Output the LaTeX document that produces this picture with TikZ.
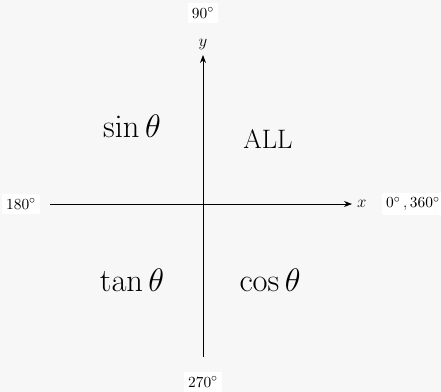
\documentclass[tikz,border=0pt]{standalone}
\usepackage{amsmath}
\usetikzlibrary{arrows.meta}

\begin{document}
\begin{tikzpicture}[x=0.025cm,y=-0.025cm,>=Stealth,axis/.style={->, semithick},deg/.style={fill=white, font=\fontsize{11}{13}\selectfont, inner sep=3pt},label/.style={font=\large},quad/.style={font=\Huge, scale=0.93, anchor=base}]
\useasboundingbox (0,0) rectangle (441,392);
\fill[gray!6] (0,0) rectangle (441,392);
% axes
\coordinate (L) at (50,204); \coordinate (R) at (352,204);
\coordinate (B) at (203,357); \coordinate (T) at (203,55);
\draw[axis] (L) -- (R) node[right,label] (xl) {$x$};
\draw[axis] (B) -- (T) node[above,label] (yl) {$y$};
\node[deg] (d0) at (413,204) {$0^\circ$\,,\,$360^\circ$};
\node[deg] (d90) at (203,13) {$90^\circ$};
\node[deg] (d180) at (21,204) {$180^\circ$};
\node[deg] (d270) at (203,382) {$270^\circ$};
% quadrants
\node[quad] (q2) at (132,138) {$\sin\theta$};
\node[quad, scale=0.82] (q1) at (268,149) {ALL};
\node[quad] (q3) at (132,292) {$\tan\theta$};
\node[quad] (q4) at (270,292) {$\cos\theta$};
\end{tikzpicture}
\end{document}
